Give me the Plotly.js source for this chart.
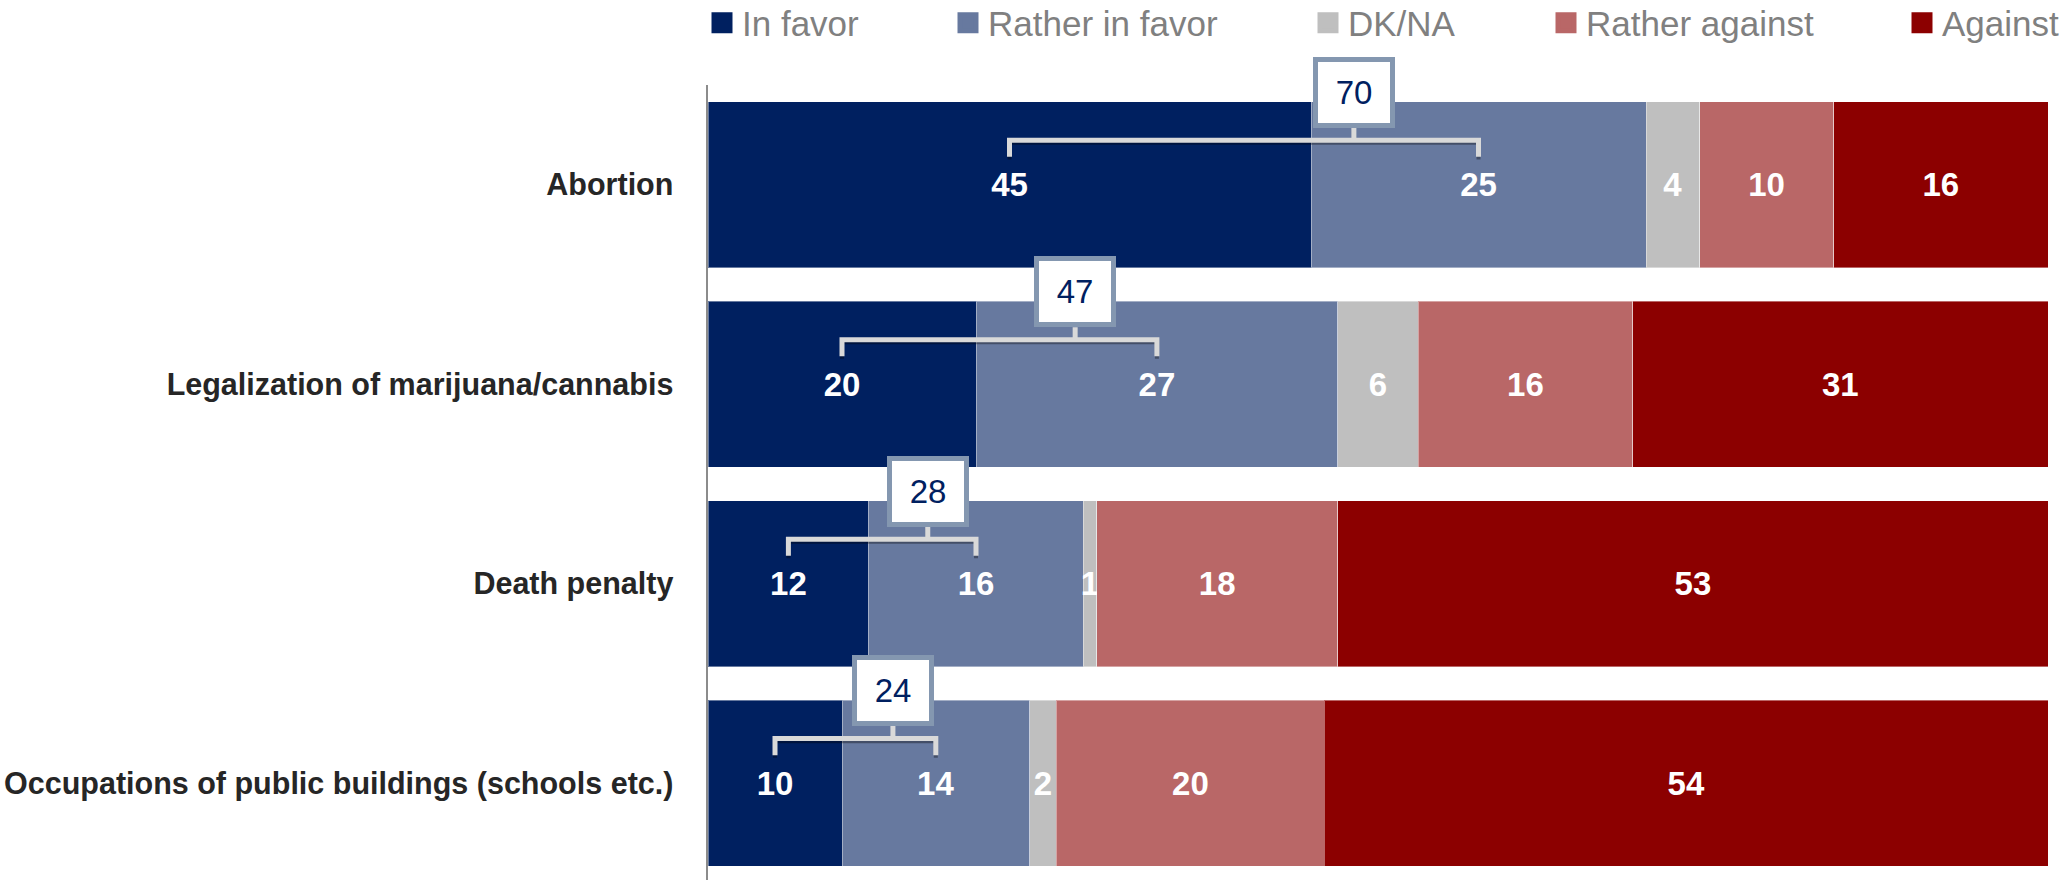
<!DOCTYPE html>
<html>
<head>
<meta charset="utf-8">
<script src="https://cdn.plot.ly/plotly-3.0.1.min.js"></script>
<style>html,body{margin:0;padding:0;background:#fff;}#chart{width:2060px;height:880px;}</style>
</head>
<body>
<div id="chart"></div>
<script>
// ---- data ----
const categories = ["Abortion", "Legalization of marijuana/cannabis", "Death penalty", "Occupations of public buildings (schools etc.)"];
const seriesNames = ["In favor", "Rather in favor", "DK/NA", "Rather against", "Against"];
const inFavor       = [45, 20, 12, 10];
const ratherInFavor = [25, 27, 16, 14];
const dkNa          = [4, 6, 1, 2];
const ratherAgainst = [10, 16, 18, 20];
const against       = [16, 31, 53, 54];
// where the total call-out sits along the value axis
const calloutX      = [48.2, 27.4, 16.4, 13.8];

// ---- style ----
const colors = ["#002060", "#67799F", "#BFBFBF", "#B96767", "#8C0000"];
const FONT = "'Liberation Sans', Arial, sans-serif";
const legendCenters = [722, 968, 1328, 1566, 1922]; // px of each legend swatch
const M = {l: 708, r: 12, t: 85, b: 0, autoexpand: false};
const W = 2060, H = 880;
const plotW = W - M.l - M.r, plotH = H - M.t - M.b;

const series = [inFavor, ratherInFavor, dkNa, ratherAgainst, against];
const yIdx = categories.map((c, i) => i);

const traces = [];
series.forEach((vals, s) => {
  traces.push({
    type: "bar", orientation: "h",
    x: vals, y: yIdx, name: seriesNames[s],
    showlegend: false,
    marker: {color: colors[s], line: {color: "rgba(255,255,255,0.4)", width: 1}},
    text: vals.map(String),
    textposition: "inside", insidetextanchor: "middle",
    textangle: 0, constraintext: "none",
    textfont: {family: FONT, size: 33, color: "#ffffff", weight: "bold"},
    hoverinfo: "x+name"
  });
});

// brackets joining the two "favor" segments
const bx = [], by = [], sx = [], sy = [];
const yLine = -0.223, yTip = -0.14, yTick = -0.286;
categories.forEach((c, i) => {
  const L = inFavor[i] / 2;
  const R = inFavor[i] + ratherInFavor[i] / 2;
  const C = calloutX[i];
  const px = [L, L, C, C, C, R, R, null];
  const py = [i + yTip, i + yLine, i + yLine, i + yTick, i + yLine, i + yLine, i + yTip, null];
  bx.push(...px); by.push(...py);
  sx.push(...px); sy.push(...py.map(v => v === null ? null : v + 0.013));
});
traces.push({type: "scatter", mode: "lines", x: sx, y: sy, showlegend: false, hoverinfo: "skip",
  line: {color: "rgba(0,0,0,0.35)", width: 4}, connectgaps: false});
traces.push({type: "scatter", mode: "lines", x: bx, y: by, showlegend: false, hoverinfo: "skip",
  line: {color: "#D9D9D9", width: 5}, connectgaps: false});

// legend swatches (one legend per entry to mimic spacing)
const legends = {};
seriesNames.forEach((n, s) => {
  const key = s === 0 ? "legend" : "legend" + (s + 1);
  traces.push({type: "scatter", mode: "markers", x: [null], y: [null], name: n,
    legend: key, showlegend: true, hoverinfo: "skip",
    marker: {symbol: "square", size: 16, color: colors[s], line: {color: colors[s], width: 5}}});
  legends[key] = {
    x: (legendCenters[s] - 20 - M.l) / plotW, xanchor: "left",
    y: (H - 23 - M.b) / plotH, yanchor: "middle",
    orientation: "h", bgcolor: "rgba(0,0,0,0)", borderwidth: 0,
    font: {family: FONT, size: 35, color: "#808080"},
    itemclick: false, itemdoubleclick: false
  };
});

const annotations = categories.map((c, i) => ({
  x: calloutX[i], y: i, xref: "x", yref: "y",
  yanchor: "bottom", xanchor: "center", yshift: 57,
  text: String(inFavor[i] + ratherInFavor[i]),
  showarrow: false,
  font: {family: FONT, size: 33, color: "#002060"},
  bgcolor: "#ffffff", bordercolor: "#8497B0", borderwidth: 5, borderpad: 0,
  width: 72, height: 61, valign: "middle", align: "center"
}));

const layout = Object.assign({
  width: W, height: H,
  margin: M,
  paper_bgcolor: "#ffffff", plot_bgcolor: "#ffffff",
  barmode: "stack", bargap: 0.168,
  showlegend: true,
  xaxis: {range: [0, 100], visible: false, fixedrange: true},
  yaxis: {
    range: [3.486, -0.5], tickmode: "array", tickvals: yIdx, ticktext: categories,
    showline: true, linecolor: "#8C8C8C", linewidth: 2.5,
    showgrid: false, zeroline: false, ticks: "", ticklabelstandoff: 26,
    tickfont: {family: FONT, size: 30.5, color: "#262626", weight: "bold"},
    fixedrange: true
  },
  annotations: annotations,
  font: {family: FONT}
}, legends);

Plotly.newPlot("chart", traces, layout, {displayModeBar: false, staticPlot: true});
</script>
</body>
</html>
